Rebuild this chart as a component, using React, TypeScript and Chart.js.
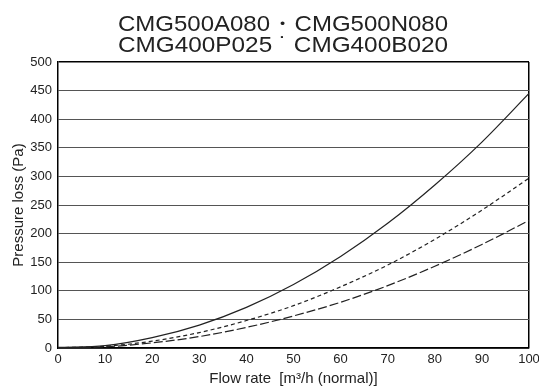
import React, { useEffect, useRef } from 'react';
import { Chart, registerables } from 'chart.js';

Chart.register(...registerables);

const titleLines = ['CMG500A080・CMG500N080', 'CMG400P025 ˙ CMG400B020'];
const flowRates = [0, 10, 20, 30, 40, 50, 60, 70, 80, 90, 100];
const solidLoss = [1, 4, 18, 40, 71, 111, 160, 218, 285, 360, 445];
const shortDashLoss = [0.5, 3, 12, 27, 48, 74, 107, 145, 190, 241, 297];
const longDashLoss = [0, 2, 9, 20, 36, 56, 80, 109, 143, 181, 223];
const xTitle = 'Flow rate  [m³/h (normal)]';
const yTitle = 'Pressure loss (Pa)';

const FONT = '"Liberation Sans", Arial, Helvetica, sans-serif';

const titlePlugin = {
  id: 'twoLineTitle',
  afterDraw(chart: any) {
    const ctx = chart.ctx;
    ctx.save();
    ctx.fillStyle = '#222';
    ctx.font = `21.5px ${FONT}`;
    ctx.textAlign = 'center';
    ctx.textBaseline = 'alphabetic';
    titleLines.forEach((line, i) => {
      const w = ctx.measureText(line).width;
      const s = 330 / w;
      ctx.save();
      ctx.translate(283, 31 + i * 20.5);
      ctx.scale(s, 1);
      ctx.fillText(line, 0, 0);
      ctx.restore();
    });
    ctx.restore();
  },
};

export default function App() {
  const ref = useRef<HTMLCanvasElement>(null);
  useEffect(() => {
    if (!ref.current) return;
    const mk = (vals: number[]) => flowRates.map((x, i) => ({ x, y: vals[i] }));
    const common = {
      borderColor: '#222',
      borderWidth: 1.2,
      pointRadius: 0,
      fill: false,
      cubicInterpolationMode: 'monotone' as const,
    };
    const chart = new Chart(ref.current, {
      type: 'line',
      data: {
        datasets: [
          { ...common, label: 'solid', data: mk(solidLoss) },
          { ...common, label: 'short dash', data: mk(shortDashLoss), borderDash: [4, 3] },
          { ...common, label: 'long dash', data: mk(longDashLoss), borderDash: [9, 3] },
        ],
      },
      options: {
        animation: false,
        responsive: false,
        layout: { padding: { top: 62, right: 10, left: 0, bottom: 0 } },
        plugins: {
          legend: { display: false },
          title: { display: false },
          tooltip: { enabled: false },
        },
        scales: {
          x: {
            type: 'linear',
            min: 0,
            max: 100,
            ticks: { stepSize: 10, color: '#222', font: { family: FONT, size: 13 }, padding: 4, maxRotation: 0 },
            grid: {
              drawTicks: false,
              color: (c: any) => (c.tick && c.tick.value === 100 ? '#000' : 'rgba(0,0,0,0)'),
              lineWidth: 1.5,
            },
            border: { display: true, color: '#000', width: 1.5 },
            title: {
              display: true,
              text: xTitle,
              color: '#222',
              font: { family: FONT, size: 15 },
              padding: { top: 0, bottom: 0 },
            },
            afterFit: (s: any) => {
              s.height = 40;
              s.paddingRight = 0;
              s.paddingLeft = 0;
            },
          },
          y: {
            min: 0,
            max: 500,
            ticks: { stepSize: 50, color: '#222', font: { family: FONT, size: 13 }, padding: 6 },
            grid: {
              drawTicks: false,
              color: (c: any) => (c.tick && c.tick.value === 500 ? '#000' : '#555'),
              lineWidth: (c: any) => (c.tick && c.tick.value === 500 ? 1.5 : 1),
            },
            border: { display: true, color: '#000', width: 1.5 },
            title: {
              display: true,
              text: yTitle,
              color: '#222',
              font: { family: FONT, size: 15 },
              padding: { top: 10, bottom: 0 },
            },
            afterFit: (s: any) => {
              s.width = 58;
              s.paddingTop = 0;
            },
          },
        },
      },
      plugins: [titlePlugin],
    });
    return () => chart.destroy();
  }, []);
  return (
    <div style={{ position: 'absolute', left: 0, top: 0, width: 539, height: 388, background: '#fff' }}>
      <canvas ref={ref} width={539} height={388} style={{ display: 'block', width: 539, height: 388 }} />
    </div>
  );
}
